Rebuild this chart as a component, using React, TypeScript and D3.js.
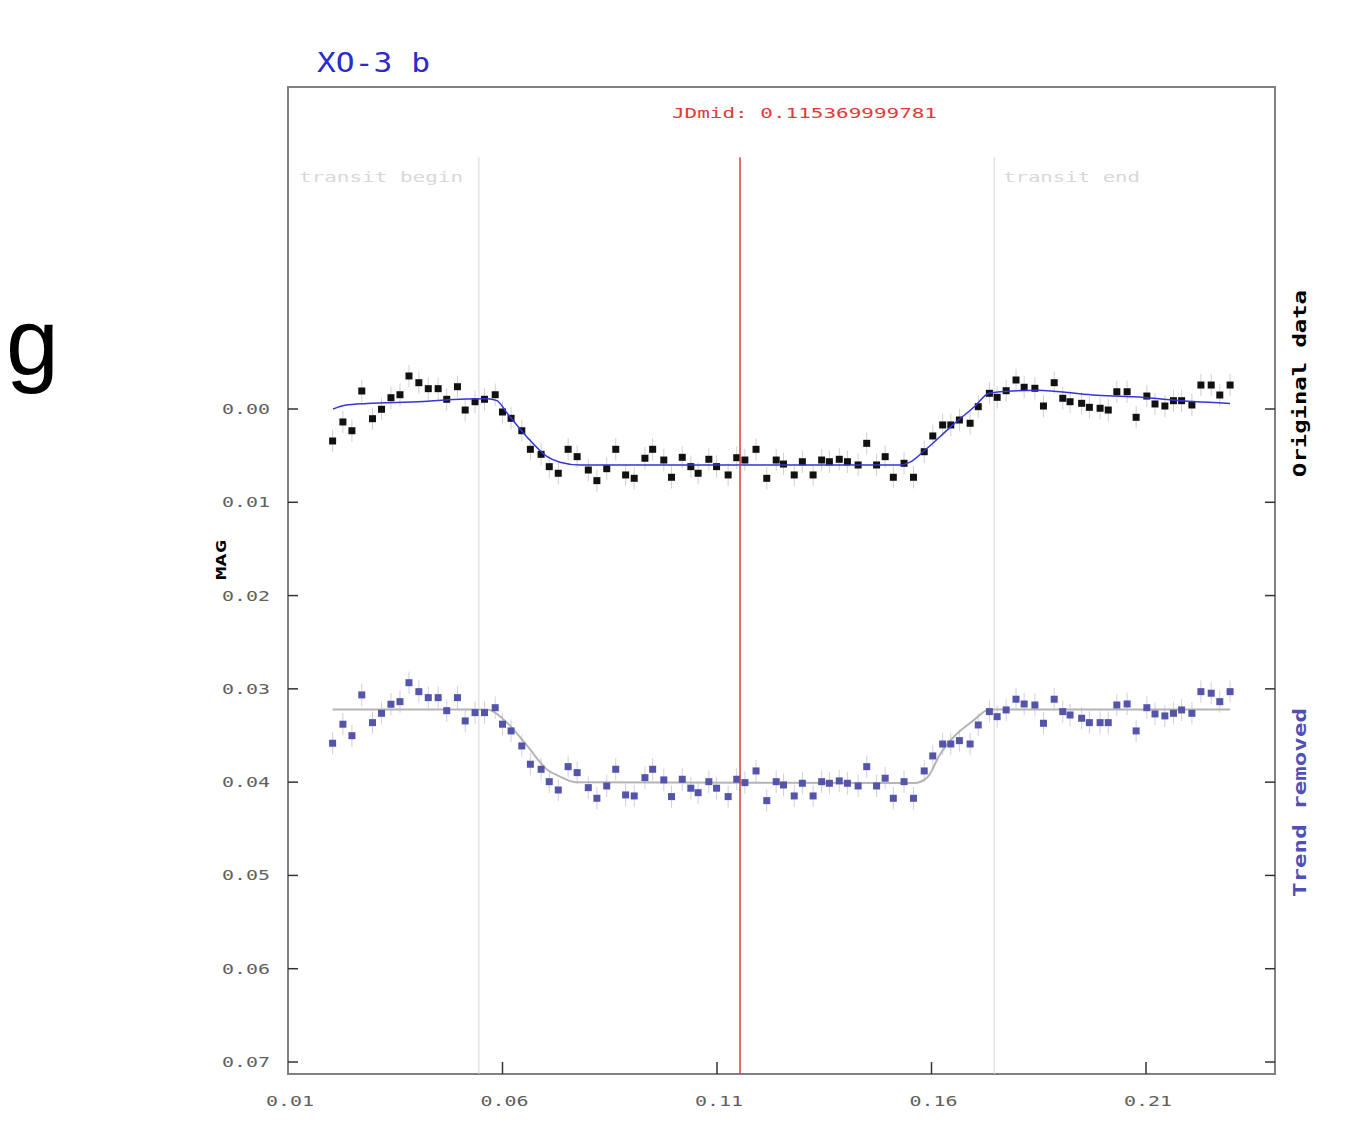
import React from "react";
import * as d3 from "d3";

// ---- data ----
const times = [
  0.0204, 0.0228, 0.0249, 0.0272, 0.0297, 0.0318, 0.034, 0.0361, 0.0382, 0.0405,
  0.0427, 0.045, 0.047, 0.0495, 0.0513, 0.0536, 0.0558, 0.0583, 0.06, 0.062,
  0.0645, 0.0665, 0.069, 0.0709, 0.073, 0.0753, 0.0774, 0.08, 0.082, 0.0843,
  0.0864, 0.0887, 0.0907, 0.0932, 0.095, 0.0976, 0.0994, 0.1019, 0.1039, 0.1056,
  0.1081, 0.1099, 0.1126, 0.1146, 0.1165, 0.1191, 0.1216, 0.1238, 0.1255, 0.128,
  0.1299, 0.1324, 0.1344, 0.1362, 0.1385, 0.1404, 0.1429, 0.1449, 0.1472, 0.1492,
  0.1511, 0.1536, 0.1558, 0.1583, 0.1603, 0.1626, 0.1645, 0.1665, 0.169, 0.1709,
  0.1735, 0.1753, 0.1774, 0.1797, 0.1816, 0.1841, 0.1861, 0.1886, 0.1906, 0.1923,
  0.195, 0.1968, 0.1993, 0.2012, 0.2032, 0.2056, 0.2077, 0.2102, 0.2121, 0.2144,
  0.2164, 0.2183, 0.2207, 0.2228, 0.2252, 0.2272, 0.2296,
];

const originalMag = [
  0.00343, 0.00139, 0.00233, -0.00193, 0.00104, 0.00003, -0.00121, -0.00153, -0.00354, -0.00282,
  -0.00218, -0.00218, -0.00104, -0.00239, 0.00011, -0.00078, -0.00104, -0.00153, 0.00032, 0.001,
  0.00233, 0.00432, 0.00486, 0.00618, 0.00689, 0.00432, 0.00511, 0.00654, 0.00768, 0.0064,
  0.00432, 0.00707, 0.00743, 0.00528, 0.00432, 0.00547, 0.00732, 0.00518, 0.00618, 0.00689,
  0.00539, 0.00618, 0.00707, 0.00522, 0.00547, 0.00432, 0.00743, 0.00547, 0.0059, 0.00707,
  0.00565, 0.00707, 0.00547, 0.00565, 0.00539, 0.00565, 0.006, 0.00368, 0.006, 0.00511,
  0.00732, 0.00582, 0.00732, 0.00458, 0.00289, 0.00171, 0.00171, 0.00118, 0.00153, -0.00025,
  -0.00168, -0.00125, -0.00196, -0.00311, -0.00233, -0.00222, -0.00032, -0.00282, -0.00115, -0.00078,
  -0.00061, -0.00018, -0.00008, 0.00011, -0.00185, -0.00185, 0.00089, -0.00139, -0.00054, -0.00032,
  -0.00089, -0.00089, -0.00043, -0.00257, -0.00257, -0.0015, -0.00257,
];

const detrendedMag = [
  0.03583, 0.03379, 0.03502, 0.03065, 0.03362, 0.03262, 0.03165, 0.03137, 0.02934, 0.0303,
  0.03094, 0.03094, 0.03234, 0.03094, 0.03344, 0.03255, 0.03255, 0.03202, 0.03379, 0.03451,
  0.03612, 0.03808, 0.03862, 0.03995, 0.04084, 0.03834, 0.03898, 0.04059, 0.04173, 0.04041,
  0.03862, 0.04137, 0.04148, 0.03952, 0.03862, 0.03976, 0.04155, 0.03969, 0.04065, 0.04113,
  0.03995, 0.04065, 0.04155, 0.03969, 0.04005, 0.0388, 0.04198, 0.03995, 0.0403, 0.04148,
  0.04012, 0.04148, 0.03995, 0.04012, 0.03987, 0.04012, 0.04041, 0.03834, 0.04041, 0.03958,
  0.04173, 0.03995, 0.04173, 0.0388, 0.03719, 0.03591, 0.03591, 0.03555, 0.03591, 0.03387,
  0.03244, 0.03298, 0.03226, 0.03111, 0.03162, 0.03173, 0.03369, 0.03111, 0.03244, 0.0328,
  0.03315, 0.03362, 0.03362, 0.03362, 0.03173, 0.03162, 0.03451, 0.03202, 0.03269, 0.0329,
  0.03262, 0.03226, 0.03262, 0.0303, 0.03047, 0.03137, 0.0303,
];

const errorMag = 0.0012;

const originalFitT = [0.0205, 0.0233, 0.0284, 0.0415, 0.0471, 0.0564, 0.0587, 0.061, 0.0657, 0.0704, 0.0734, 0.0781, 0.1527, 0.155, 0.1585, 0.165, 0.1701, 0.1734, 0.1776, 0.1846, 0.1976, 0.207, 0.221, 0.2296];
const originalFitMag = [0.0, -0.0004, -0.0006, -0.0008, -0.001, -0.0011, -0.0009, 0.0004, 0.003, 0.0051, 0.0057, 0.006, 0.006, 0.0057, 0.0044, 0.0017, -0.0003, -0.0017, -0.0019, -0.002, -0.0015, -0.0013, -0.0008, -0.0006];

const detrendedFitT = [0.0204, 0.0563, 0.0612, 0.0659, 0.0705, 0.0734, 0.077, 0.156, 0.159, 0.162, 0.17, 0.1735, 0.2296];
const detrendedFitMag = [0.0322, 0.0322, 0.0337, 0.0362, 0.0387, 0.0394, 0.04, 0.0401, 0.0395, 0.037, 0.0333, 0.0322, 0.0322];

const xTicks = [0.01, 0.06, 0.11, 0.16, 0.21];
const yTicks = [0.0, 0.01, 0.02, 0.03, 0.04, 0.05, 0.06, 0.07];

const title = "XO-3 b";
const jdMid = 0.115369999781;
const transitBegin = 0.0545;
const transitEnd = 0.1746;
const lineTopMag = -0.027;

// ---- layout ----
const W = 1360;
const H = 1137;
const frame = { left: 288, top: 87, right: 1275, bottom: 1074 };

const mono = "'DejaVu Sans Mono', monospace";

export default function App() {
  const x = d3.scaleLinear().domain([0.01, 0.21]).range([288, 1146]);
  const y = d3.scaleLinear().domain([0, 0.07]).range([409, 1062]);

  const line = d3
    .line<[number, number]>()
    .x((d) => x(d[0]))
    .y((d) => y(d[1]))
    .curve(d3.curveMonotoneX);

  const origFit = line(originalFitT.map((t, i) => [t, originalFitMag[i]] as [number, number])) || "";
  const detFit = line(detrendedFitT.map((t, i) => [t, detrendedFitMag[i]] as [number, number])) || "";

  const ms = 7;

  return (
    <svg
      width={W}
      height={H}
      style={{ position: "absolute", left: 0, top: 0, display: "block", background: "#fff" }}
    >
      {/* stray big glyph at left */}
      <text x={6} y={374} fontFamily="'Liberation Sans', Arial, sans-serif" fontSize={95} fill="#000">
        g
      </text>

      {/* title */}
      <text x={317} y={72} fontFamily={mono} fontSize={26} textLength={113} lengthAdjust="spacingAndGlyphs" fill="#2b2bcc">
        {title}
      </text>

      {/* frame */}
      <rect
        x={frame.left}
        y={frame.top}
        width={frame.right - frame.left}
        height={frame.bottom - frame.top}
        fill="#fff"
        stroke="#808080"
        strokeWidth={2}
      />

      {/* JDmid label */}
      <text x={672} y={118} fontFamily={mono} fontSize={14} textLength={265} lengthAdjust="spacingAndGlyphs" fill="#e03a3a">
        {"JDmid: " + jdMid}
      </text>

      {/* transit lines */}
      <line x1={x(transitBegin)} x2={x(transitBegin)} y1={y(lineTopMag)} y2={frame.bottom} stroke="#d6d6d6" strokeWidth={1} />
      <line x1={x(transitEnd)} x2={x(transitEnd)} y1={y(lineTopMag)} y2={frame.bottom} stroke="#d6d6d6" strokeWidth={1} />
      <text x={299} y={182} fontFamily={mono} fontSize={14} textLength={164} lengthAdjust="spacingAndGlyphs" fill="#d8d8d8">
        transit begin
      </text>
      <text x={1003} y={182} fontFamily={mono} fontSize={14} textLength={137} lengthAdjust="spacingAndGlyphs" fill="#d8d8d8">
        transit end
      </text>

      {/* y ticks */}
      {yTicks.map((v) => (
        <g key={"y" + v}>
          <line x1={frame.left} x2={frame.left + 10} y1={y(v)} y2={y(v)} stroke="#333" strokeWidth={1.5} />
          <line x1={frame.right - 10} x2={frame.right} y1={y(v)} y2={y(v)} stroke="#333" strokeWidth={1.5} />
          <text
            x={222}
            y={y(v) + 5}
            fontFamily={mono}
            fontSize={14}
            textLength={48}
            lengthAdjust="spacingAndGlyphs"
            fill="#606060"
          >
            {d3.format(".2f")(v)}
          </text>
        </g>
      ))}

      {/* x ticks */}
      {xTicks.map((v) => (
        <g key={"x" + v}>
          {v > 0.01 && (
            <line x1={x(v)} x2={x(v)} y1={frame.bottom} y2={frame.bottom - 12} stroke="#333" strokeWidth={1.5} />
          )}
          <text
            x={x(v) - 22}
            y={1106}
            fontFamily={mono}
            fontSize={14}
            textLength={48}
            lengthAdjust="spacingAndGlyphs"
            fill="#606060"
          >
            {d3.format(".2f")(v)}
          </text>
        </g>
      ))}

      {/* MAG label */}
      <text
        transform="translate(226,580) rotate(-90)"
        fontFamily={mono}
        fontSize={14}
        fontWeight="bold"
        textLength={40}
        lengthAdjust="spacingAndGlyphs"
        fill="#000"
      >
        MAG
      </text>

      {/* right labels */}
      <text
        transform="translate(1306,477) rotate(-90)"
        fontFamily={mono}
        fontSize={17}
        fontWeight="bold"
        textLength={187}
        lengthAdjust="spacingAndGlyphs"
        fill="#000"
      >
        Original data
      </text>
      <text
        transform="translate(1306,897) rotate(-90)"
        fontFamily={mono}
        fontSize={17}
        fontWeight="bold"
        textLength={189}
        lengthAdjust="spacingAndGlyphs"
        fill="#5050b4"
      >
        Trend removed
      </text>

      {/* error bars */}
      {times.map((t, i) => (
        <line
          key={"eo" + i}
          x1={x(t)}
          x2={x(t)}
          y1={y(originalMag[i] - errorMag)}
          y2={y(originalMag[i] + errorMag)}
          stroke="#d0d0d0"
          strokeWidth={1}
        />
      ))}
      {times.map((t, i) => (
        <line
          key={"ed" + i}
          x1={x(t)}
          x2={x(t)}
          y1={y(detrendedMag[i] - errorMag)}
          y2={y(detrendedMag[i] + errorMag)}
          stroke="#cfcfe4"
          strokeWidth={1}
        />
      ))}

      {/* fits */}
      <path d={detFit} fill="none" stroke="#b4b4b4" strokeWidth={2} />

      {/* points */}
      {times.map((t, i) => (
        <rect
          key={"po" + i}
          x={x(t) - ms / 2}
          y={y(originalMag[i]) - ms / 2}
          width={ms}
          height={ms}
          fill="#111"
        />
      ))}
      {times.map((t, i) => (
        <rect
          key={"pd" + i}
          x={x(t) - ms / 2}
          y={y(detrendedMag[i]) - ms / 2}
          width={ms}
          height={ms}
          fill="#5454aa"
        />
      ))}

      <path d={origFit} fill="none" stroke="#3535d8" strokeWidth={1.5} />

      {/* JDmid line */}
      <line x1={x(jdMid)} x2={x(jdMid)} y1={y(lineTopMag)} y2={frame.bottom} stroke="#e03a3a" strokeWidth={1.5} />
    </svg>
  );
}
